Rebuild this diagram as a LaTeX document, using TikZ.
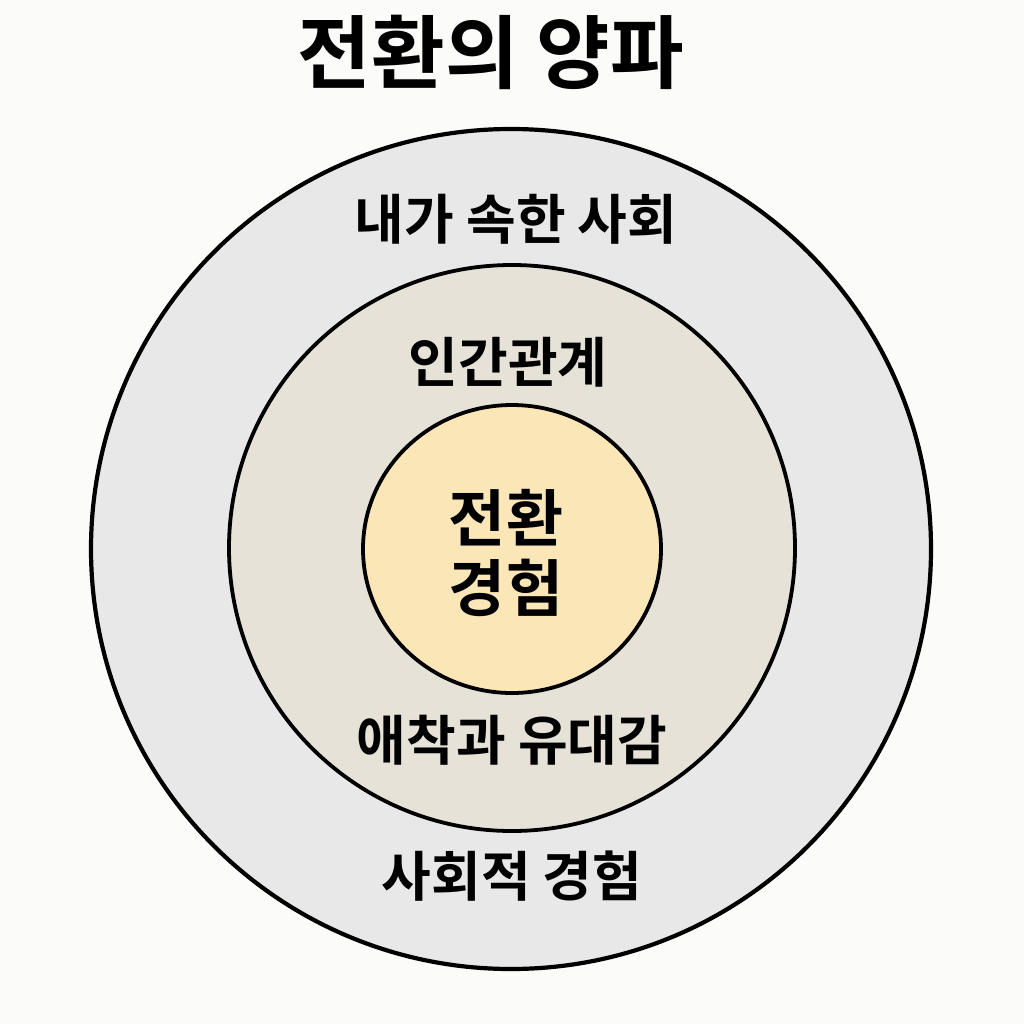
\documentclass[tikz,border=0pt]{standalone}
\usepackage{fontspec}
\setmainfont{Noto Sans CJK KR}[BoldFont={* Bold}]
\usetikzlibrary{shapes.geometric}
\definecolor{bgc}{HTML}{FBFBF9}
\definecolor{outerc}{HTML}{E8E8E8}
\definecolor{midc}{HTML}{E7E2D8}
\definecolor{innerc}{HTML}{FBE6B8}
\tikzset{
  ring/.style={draw=black, line width=4.2pt, circle, inner sep=0pt},
  lbl/.style={font=\bfseries\fontsize{54}{64}\selectfont, text=black, inner sep=0pt, anchor=center},
}
\begin{document}
\begin{tikzpicture}[x=1pt, y=-1pt]
  \fill[bgc] (0,0) rectangle (1024,1024);
  \useasboundingbox (0,0) rectangle (1024,1024);
  \node[ring, fill=outerc, minimum size=840pt] (outer) at (511,549) {};
  \node[ring, fill=midc, minimum size=566pt, line width=3.8pt] (mid) at (512,548) {};
  \node[draw=black, line width=3.8pt, ellipse, fill=innerc, minimum width=298pt, minimum height=288pt, inner sep=0pt] (inner) at (512,549) {};
  \node[lbl, font=\bfseries\fontsize{80}{90}\selectfont] (title) at (491,52) {전환의 양파};
  \node[lbl] (society) at (516,219) {내가 속한 사회};
  \node[lbl] (rel) at (508,362) {인간관계};
  \node[lbl, font=\bfseries\fontsize{62}{76}\selectfont, align=center] (core) at (506,553) {전환\\[-6pt]경험};
  \node[lbl] (attach) at (512,740) {애착과 유대감};
  \node[lbl] (social) at (512,876) {사회적 경험};
\end{tikzpicture}
\end{document}
